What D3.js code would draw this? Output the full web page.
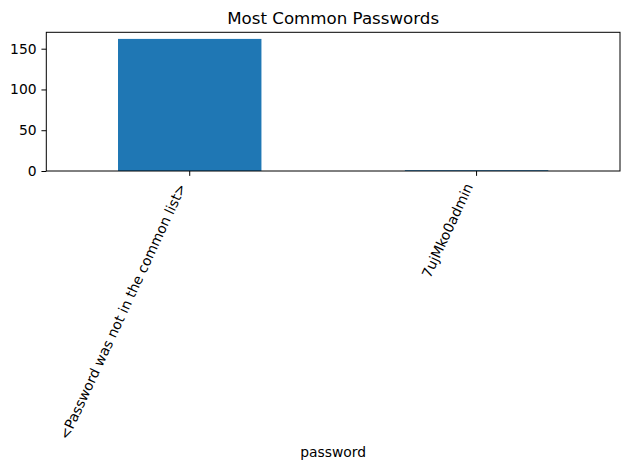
<!DOCTYPE html>
<html>
<head>
<meta charset="utf-8">
<script src="https://cdn.jsdelivr.net/npm/d3@7"></script>
<style>
body{margin:0;background:#fff;}
text{font-family:"DejaVu Sans",sans-serif;fill:#000;}
</style>
</head>
<body>
<svg id="chart" width="629" height="470"></svg>
<script>
const categories = ["<Password was not in the common list>", "7ujMko0admin"];
const counts = [162, 1];
const yTicks = [0, 50, 100, 150];
const title = "Most Common Passwords";
const xLabel = "password";

const svg = d3.select("#chart");
const m = {left: 46.3, right: 620, top: 32.3, bottom: 171};
const fs = "13.89px";

const x = d3.scaleBand().domain(categories).range([m.left, m.right]).paddingInner(0.5).paddingOuter(0.25);
const y = d3.scaleLinear().domain([0, d3.max(counts) * 1.05]).range([m.bottom, m.top]);

svg.append("g").selectAll("rect").data(categories).join("rect")
  .attr("x", d => x(d))
  .attr("width", x.bandwidth())
  .attr("y", (d, i) => y(counts[i]))
  .attr("height", (d, i) => y(0) - y(counts[i]))
  .attr("fill", "#1f77b4");

// frame
svg.append("rect").attr("x", m.left).attr("y", m.top)
  .attr("width", m.right - m.left).attr("height", m.bottom - m.top)
  .attr("fill", "none").attr("stroke", "#000").attr("stroke-width", 1);

// y axis
const yAxis = svg.append("g").attr("transform", `translate(${m.left},0)`)
  .call(d3.axisLeft(y).tickValues(yTicks).tickSize(4.86).tickPadding(4.86).tickFormat(d3.format("d")));
yAxis.select(".domain").remove();
yAxis.selectAll("text").style("font-size", fs).style("font-family", "DejaVu Sans");
yAxis.selectAll("line").attr("stroke", "#000");

// x axis
const xAxis = svg.append("g").attr("transform", `translate(0,${m.bottom})`)
  .call(d3.axisBottom(x).tickSize(4.86).tickFormat(""));
xAxis.select(".domain").remove();
xAxis.selectAll("line").attr("stroke", "#000");

svg.append("g").selectAll("text").data(categories).join("text")
  .attr("transform", d => `translate(${x(d) + x.bandwidth()/2 - 7.3},${m.bottom + 13.5}) rotate(-65)`)
  .attr("text-anchor", "end")
  .attr("dy", "0.32em")
  .style("font-size", fs)
  .text(d => d);

svg.append("text").attr("x", (m.left + m.right)/2).attr("y", 24.3)
  .attr("text-anchor", "middle").style("font-size", "16.67px").text(title);

svg.append("text").attr("x", (m.left + m.right)/2).attr("y", 456.5)
  .attr("text-anchor", "middle").style("font-size", fs).text(xLabel);
</script>
</body>
</html>
